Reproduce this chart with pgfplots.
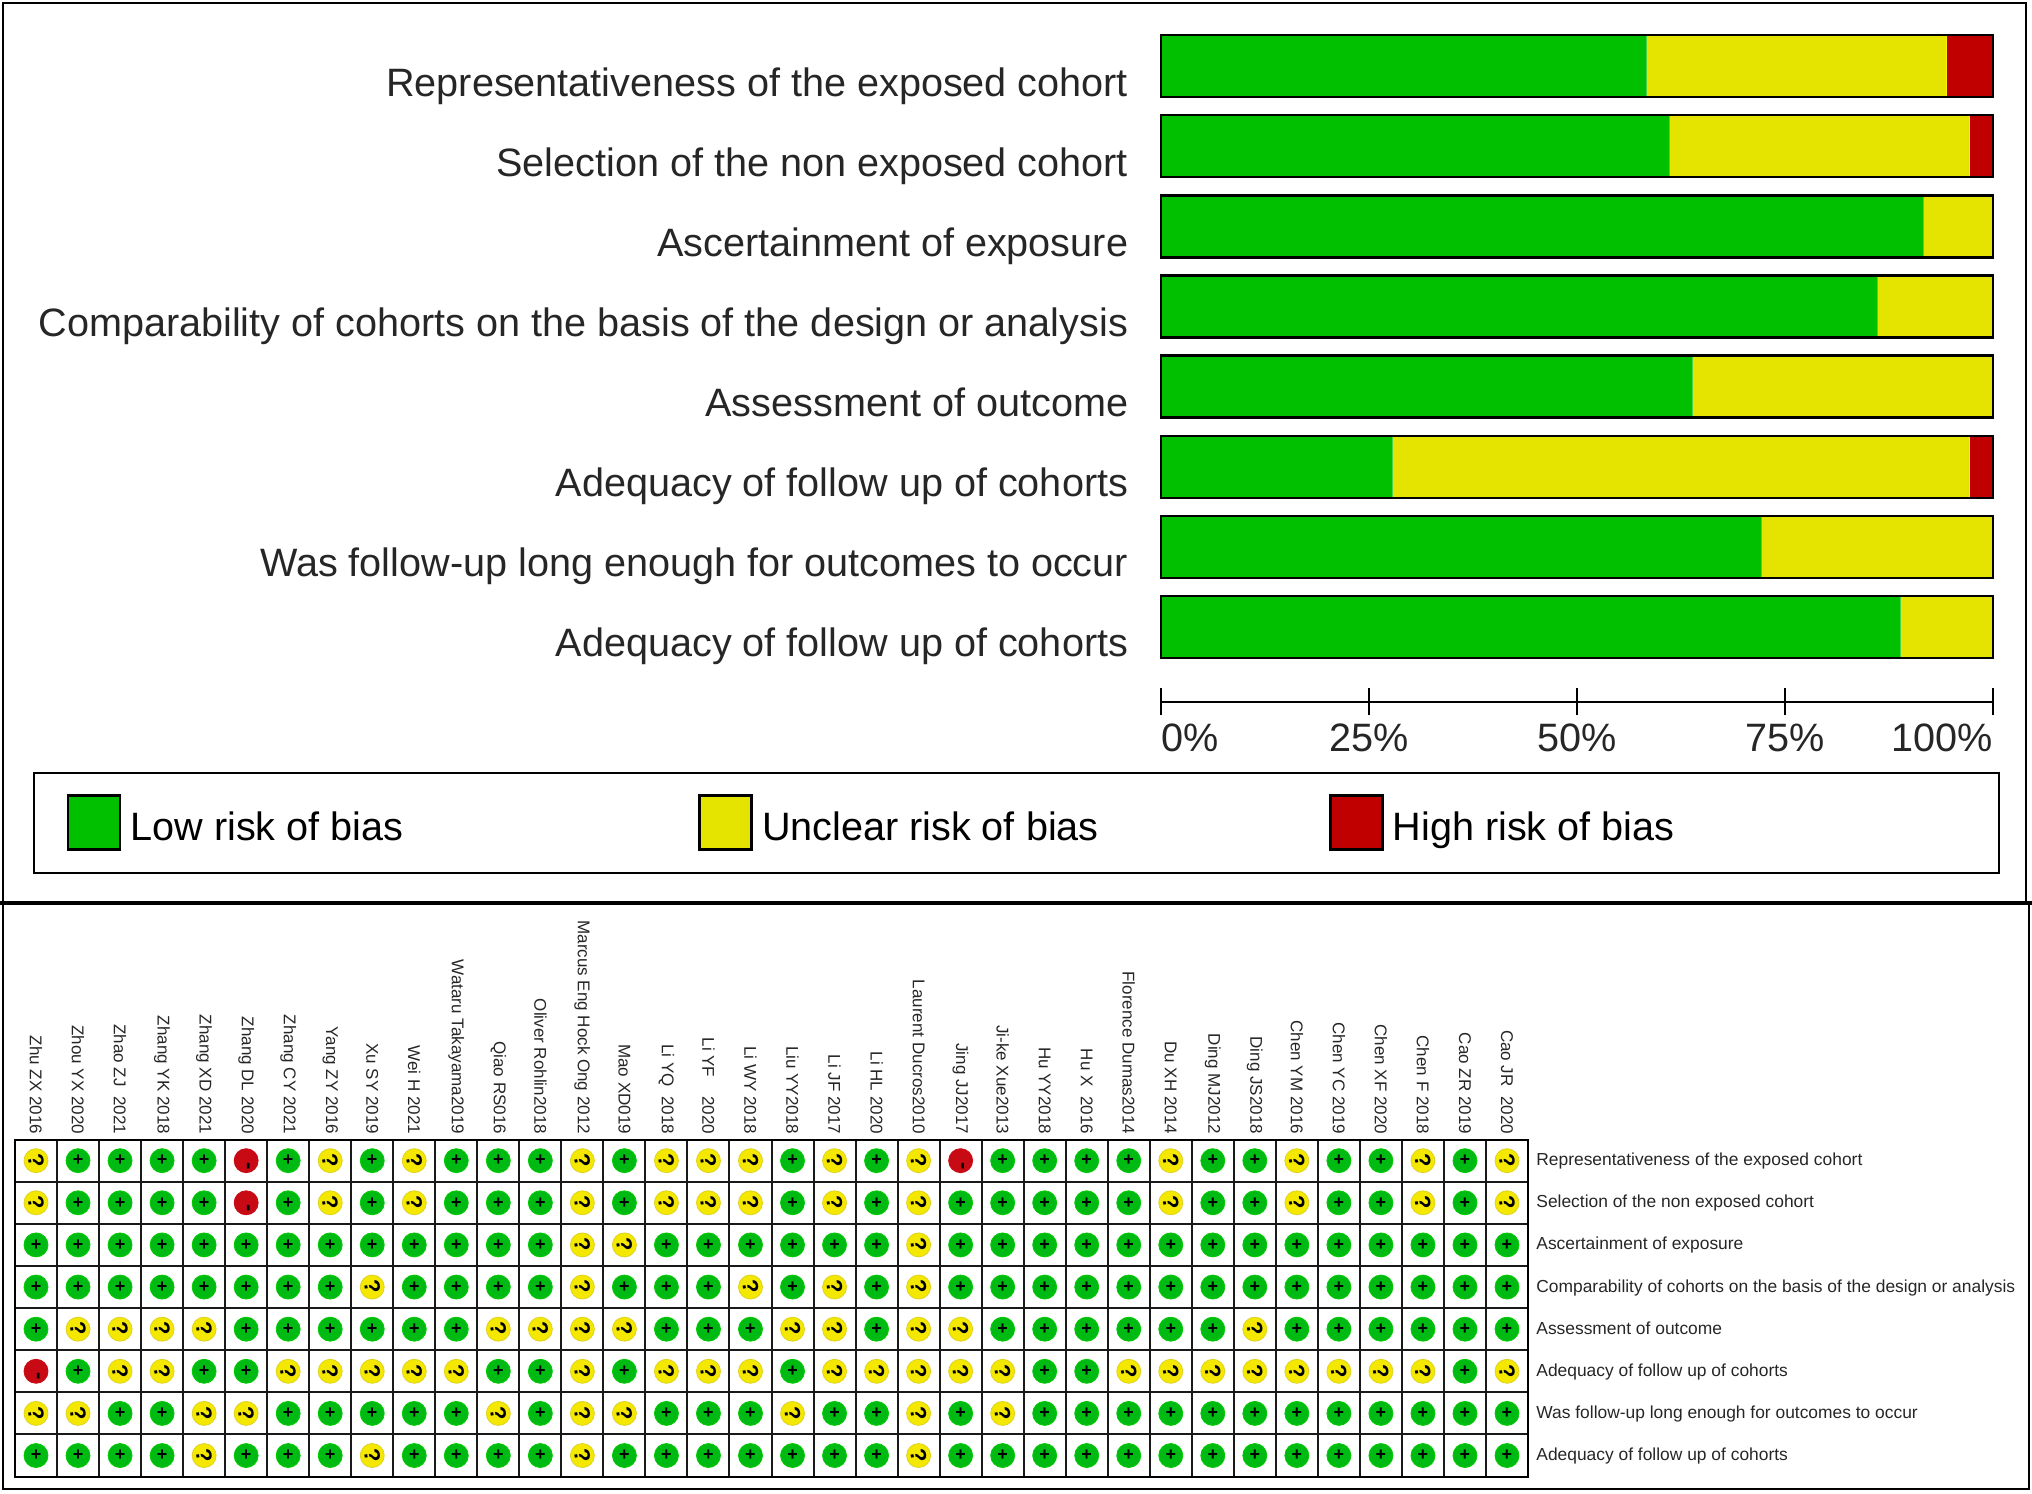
\documentclass[border=0pt]{standalone}
\usepackage{fontspec}
\setmainfont{Liberation Sans}
\usepackage{pgfplots}
\pgfplotsset{compat=1.18}
\definecolor{barG}{RGB}{0,192,0}
\definecolor{barY}{RGB}{228,228,0}
\definecolor{barR}{RGB}{192,0,0}
\definecolor{dotG}{RGB}{0,186,20}
\definecolor{dotY}{RGB}{245,232,0}
\definecolor{dotR}{RGB}{200,10,20}
\newcommand{\bigfont}{\fontsize{19.8}{22}\selectfont}
\newcommand{\colfont}{\fontsize{8.5}{10}\selectfont}
\newcommand{\rowfont}{\fontsize{8.7}{10}\selectfont}
\begin{document}
\begin{tikzpicture}
\path[use as bounding box] (0,0) rectangle (1016pt,746.5pt);
% panel frames
\draw[black,line width=1pt] (1.5pt,295pt) rectangle (1013pt,745pt);
\draw[black,line width=1pt] (1.5pt,2pt) rectangle (1014.5pt,295pt);
\draw[black,line width=1.7pt] (0pt,295pt) -- (1016pt,295pt);
% legend box
\draw[black,line width=1.3pt] (17pt,310pt) rectangle (999.5pt,360pt);
\begin{axis}[
  at={(580.5pt,395.5pt)},anchor=south west,
  scale only axis,width=416pt,height=338pt,
  xbar stacked,bar width=31pt,
  xmin=0,xmax=100,ymin=0.064,ymax=8.5,
  axis x line=bottom,axis y line=left,
  x axis line style={-,line width=1.1pt},
  y axis line style={draw=none},
  xtick={0,25,50,75,100},
  xticklabels={\rlap{0\%},25\%,50\%,75\%,\llap{100\%}},
  tick align=center,
  x tick style={black,line width=1.1pt},
  y tick style={draw=none},
  major tick length=13.5pt,
  tick label style={font=\bigfont,text=black!85},
  x tick label style={anchor=base,inner sep=0pt,yshift=-18pt},
  ytick={1,...,8},
  yticklabels={Adequacy of follow up of cohorts,Was follow-up long enough for outcomes to occur,Adequacy of follow up of cohorts,Assessment of outcome,Comparability of cohorts on the basis of the design or analysis,Ascertainment of exposure,Selection of the non exposed cohort,Representativeness of the exposed cohort},
  y tick label style={anchor=base east,inner sep=0pt,xshift=-9.5pt,yshift=-15pt},
  legend columns=3,
  legend style={draw=none,fill=none,at={(-1.3155,-0.178)},anchor=west,font=\bigfont,inner sep=0pt,
    /tikz/column 1/.style={column sep=2.6pt},
    /tikz/column 3/.style={column sep=2.6pt},
    /tikz/column 5/.style={column sep=2.6pt},
    /tikz/column 2/.style={column sep=145.5pt},
    /tikz/column 4/.style={column sep=113.2pt}},
  legend cell align=left,
  legend image code/.code={\draw[#1,draw=black,line width=1.2pt] (0pt,-11pt) rectangle (26pt,16pt);},
]
\addplot[fill=barG,draw=barG!70!white,line width=0.5pt] coordinates {(88.89,1)(72.22,2)(27.78,3)(63.89,4)(86.11,5)(91.67,6)(61.11,7)(58.33,8)};
\addlegendentry{Low risk of bias}
\addplot[fill=barY,draw=yellow,line width=0.5pt] coordinates {(11.11,1)(27.78,2)(69.44,3)(36.11,4)(13.89,5)(8.33,6)(36.11,7)(36.11,8)};
\addlegendentry{Unclear risk of bias}
\addplot[fill=barR,draw=none] coordinates {(0,1)(0,2)(2.78,3)(0,4)(0,5)(0,6)(2.78,7)(5.56,8)};
\addlegendentry{High risk of bias}
\end{axis}
% black outline of each whole bar
\begin{axis}[
  at={(580.5pt,395.5pt)},anchor=south west,
  scale only axis,width=416pt,height=338pt,
  hide axis,xmin=0,xmax=100,ymin=0.064,ymax=8.5,
  clip=false,
]
\addplot[xbar,bar width=31pt,draw=black,fill=none,line width=1.2pt] coordinates {(100,1)(100,2)(100,3)(100,4)(100,5)(100,6)(100,7)(100,8)};
\end{axis}
\begin{axis}[
  at={(7.5pt,8.2pt)},anchor=south west,
  scale only axis,width=756.5pt,height=168.5pt,
  xmin=0.5,xmax=36.5,ymin=0.5,ymax=8.5,
  axis line style={black,line width=1pt},
  xtick={1,...,36},ytick={1,...,8},
  major tick length=0pt,
  minor xtick={1.5,2.5,...,35.5},minor ytick={1.5,2.5,...,7.5},
  minor tick length=0pt,
  xminorgrids,yminorgrids,
  minor grid style={black!90,line width=1pt},
  xticklabel pos=upper,yticklabel pos=right,
  x tick label style={rotate=-90,anchor=east,inner sep=0pt,xshift=-2.6pt,font=\colfont,text=black!85},
  y tick label style={anchor=base west,inner sep=0pt,xshift=4pt,yshift=-2.5pt,font=\rowfont,text=black!85},
  xticklabels={Zhu ZX 2016,Zhou YX 2020,Zhao ZJ\ \ 2021,Zhang YK 2018,Zhang XD 2021,Zhang DL 2020,Zhang CY 2021,Yang ZY 2016,Xu SY 2019,Wei H 2021,Wataru Takayama2019,Qiao RS016,Oliver Rohlin2018,Marcus Eng Hock Ong 2012,Mao XD019,Li YQ\ \ 2018,Li YF\ \ \ \ 2020,Li WY 2018,Liu YY2018,Li JF 2017,Li HL 2020,Laurent Ducros2010,Jing JJ2017,Ji-ke Xue2013,Hu YY2018,Hu X\ \ 2016,Florence Dumas2014,Du XH 2014,Ding MJ2012,Ding JS2018,Chen YM 2016,Chen YC 2019,Chen XF 2020,Chen F 2018,Cao ZR 2019,Cao JR\ \ 2020},
  yticklabels={Adequacy of follow up of cohorts,Was follow-up long enough for outcomes to occur,Adequacy of follow up of cohorts,Assessment of outcome,Comparability of cohorts on the basis of the design or analysis,Ascertainment of exposure,Selection of the non exposed cohort,Representativeness of the exposed cohort},
  only marks,
  nodes near coords style={anchor=center,inner sep=0pt,text=black},
]
% Low risk
\addplot[only marks,mark=*,mark size=6pt,mark options={fill=dotG,draw=green!80!black,line width=0.4pt},
  nodes near coords={\textbf{+}},nodes near coords style={font=\fontsize{9}{9}\selectfont}] coordinates {
(2,8)(3,8)(4,8)(5,8)(7,8)(9,8)(11,8)(12,8)(13,8)(15,8)(19,8)(21,8)(24,8)(25,8)(26,8)(27,8)(29,8)(30,8)(32,8)(33,8)(35,8)
(2,7)(3,7)(4,7)(5,7)(7,7)(9,7)(11,7)(12,7)(13,7)(15,7)(19,7)(21,7)(23,7)(24,7)(25,7)(26,7)(27,7)(29,7)(30,7)(32,7)(33,7)(35,7)
(1,6)(2,6)(3,6)(4,6)(5,6)(6,6)(7,6)(8,6)(9,6)(10,6)(11,6)(12,6)(13,6)(16,6)(17,6)(18,6)(19,6)(20,6)(21,6)(23,6)(24,6)(25,6)(26,6)(27,6)(28,6)(29,6)(30,6)(31,6)(32,6)(33,6)(34,6)(35,6)(36,6)
(1,5)(2,5)(3,5)(4,5)(5,5)(6,5)(7,5)(8,5)(10,5)(11,5)(12,5)(13,5)(15,5)(16,5)(17,5)(19,5)(21,5)(23,5)(24,5)(25,5)(26,5)(27,5)(28,5)(29,5)(30,5)(31,5)(32,5)(33,5)(34,5)(35,5)(36,5)
(1,4)(6,4)(7,4)(8,4)(9,4)(10,4)(11,4)(16,4)(17,4)(18,4)(21,4)(24,4)(25,4)(26,4)(27,4)(28,4)(29,4)(31,4)(32,4)(33,4)(34,4)(35,4)(36,4)
(2,3)(5,3)(6,3)(12,3)(13,3)(15,3)(19,3)(25,3)(26,3)(35,3)
(3,2)(4,2)(7,2)(8,2)(9,2)(10,2)(11,2)(13,2)(16,2)(17,2)(18,2)(20,2)(21,2)(23,2)(25,2)(26,2)(27,2)(28,2)(29,2)(30,2)(31,2)(32,2)(33,2)(34,2)(35,2)(36,2)
(1,1)(2,1)(3,1)(4,1)(6,1)(7,1)(8,1)(10,1)(11,1)(12,1)(13,1)(15,1)(16,1)(17,1)(18,1)(19,1)(20,1)(21,1)(23,1)(24,1)(25,1)(26,1)(27,1)(28,1)(29,1)(30,1)(31,1)(32,1)(33,1)(34,1)(35,1)(36,1)
};
% Unclear risk
\addplot[only marks,mark=*,mark size=6pt,mark options={fill=dotY,draw=yellow!85!black,line width=0.4pt},
  nodes near coords={\textbf{?}},nodes near coords style={rotate=-80,font=\fontsize{11}{11}\selectfont}] coordinates {
(1,8)(8,8)(10,8)(14,8)(16,8)(17,8)(18,8)(20,8)(22,8)(28,8)(31,8)(34,8)(36,8)
(1,7)(8,7)(10,7)(14,7)(16,7)(17,7)(18,7)(20,7)(22,7)(28,7)(31,7)(34,7)(36,7)
(14,6)(15,6)(22,6)
(9,5)(14,5)(18,5)(20,5)(22,5)
(2,4)(3,4)(4,4)(5,4)(12,4)(13,4)(14,4)(15,4)(19,4)(20,4)(22,4)(23,4)(30,4)
(3,3)(4,3)(7,3)(8,3)(9,3)(10,3)(11,3)(14,3)(16,3)(17,3)(18,3)(20,3)(21,3)(22,3)(23,3)(24,3)(27,3)(28,3)(29,3)(30,3)(31,3)(32,3)(33,3)(34,3)(36,3)
(1,2)(2,2)(5,2)(6,2)(12,2)(14,2)(15,2)(19,2)(22,2)(24,2)
(5,1)(9,1)(14,1)(22,1)
};
% High risk
\addplot[only marks,mark=*,mark size=6pt,mark options={fill=dotR,draw=dotR,line width=0.4pt},
  nodes near coords={\textbf{-}},nodes near coords style={rotate=-90,xshift=2.5pt,font=\fontsize{11}{11}\selectfont}] coordinates {
(6,8)(23,8)(6,7)(1,3)
};
\end{axis}
\end{tikzpicture}
\end{document}
